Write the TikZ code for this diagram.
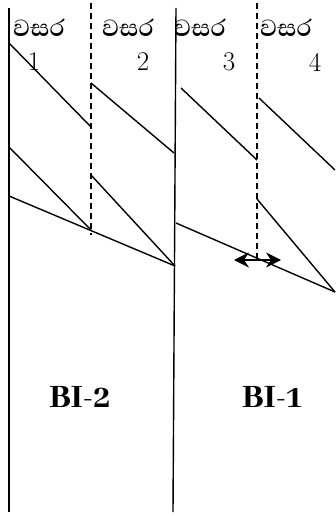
\documentclass[tikz,border=0pt]{standalone}
\usepackage{fontspec}
\newfontfamily\sinhalafont[Script=Sinhala]{Abhaya Libre SemiBold}
\newfontfamily\bifont[Script=Sinhala]{Abhaya Libre ExtraBold}
\usetikzlibrary{arrows.meta,positioning}

\begin{document}
\begin{tikzpicture}[x=1pt,y=-1pt,line width=1.4pt,
    yearlbl/.style={font=\sinhalafont\fontsize{30}{30}\selectfont,inner sep=0pt},
    numlbl/.style={font=\fontsize{27}{27}\selectfont,inner sep=0pt},
    bilbl/.style={font=\bifont\fontsize{36}{36}\selectfont,inner sep=0pt},
    split/.style={dash pattern=on 6pt off 4pt},
    gap/.style={{Stealth[length=15pt,width=15pt,inset=5pt]}-{Stealth[length=15pt,width=15pt,inset=5pt]}}]
    \useasboundingbox (0,0) rectangle (335,516);

    % year labels
    \node[yearlbl] (y_1) at (39,28)  {වසර};
    \node[yearlbl] (y_2) at (128,28) {වසර};
    \node[yearlbl] (y_3) at (200,28) {වසර};
    \node[yearlbl] (y_4) at (286,28) {වසර};
    \node[numlbl]  (n_1) at (34,62)  {1};
    \node[numlbl]  (n_2) at (143,62) {2};
    \node[numlbl]  (n_3) at (229,62) {3};
    \node[numlbl]  (n_4) at (315,62) {4};

    % interval labels
    \node[bilbl]   (bi_2) at (80,397)  {BI-2};
    \node[bilbl]   (bi_1) at (272,397) {BI-1};

    % boundary lines
    \coordinate (a_t) at (9,8);    \coordinate (a_b) at (9,512);
    \coordinate (b_t) at (176,8);  \coordinate (b_b) at (173,512);
    \coordinate (d_t) at (91,3);   \coordinate (d_b) at (91,235);
    \coordinate (e_t) at (257,3);  \coordinate (e_b) at (257,260);

    % corner points
    \coordinate (p_1) at (9,43);   \coordinate (q_1) at (91,127);
    \coordinate (p_2) at (91,83);  \coordinate (q_2) at (174,153);
    \coordinate (p_3) at (181,88); \coordinate (q_3) at (257,160);
    \coordinate (p_4) at (259,98); \coordinate (q_4) at (335,170);
    \coordinate (p_5) at (9,147);  \coordinate (m_1) at (91,230);
    \coordinate (p_6) at (9,196);  \coordinate (q_6) at (175,266);
    \coordinate (p_7) at (91,175);
    \coordinate (p_8) at (176,223); \coordinate (q_8) at (335,292);
    \coordinate (p_9) at (257,199);
    \coordinate (g_l) at (234,260); \coordinate (g_r) at (281,260);

    \draw (a_t) -- (a_b);
    \draw (b_t) -- (b_b);
    \draw[split] (d_t) -- (d_b);
    \draw[split] (e_t) -- (e_b);

    \draw (p_1) -- (q_1);
    \draw (p_2) -- (q_2);
    \draw (p_3) -- (q_3);
    \draw (p_4) -- (q_4);
    \draw (p_5) -- (m_1);
    \draw (p_6) -- (q_6);
    \draw (p_7) -- (q_6);
    \draw (p_8) -- (q_8);
    \draw (p_9) -- (q_8);
    \draw[gap] (g_l) -- (g_r);
\end{tikzpicture}
\end{document}
